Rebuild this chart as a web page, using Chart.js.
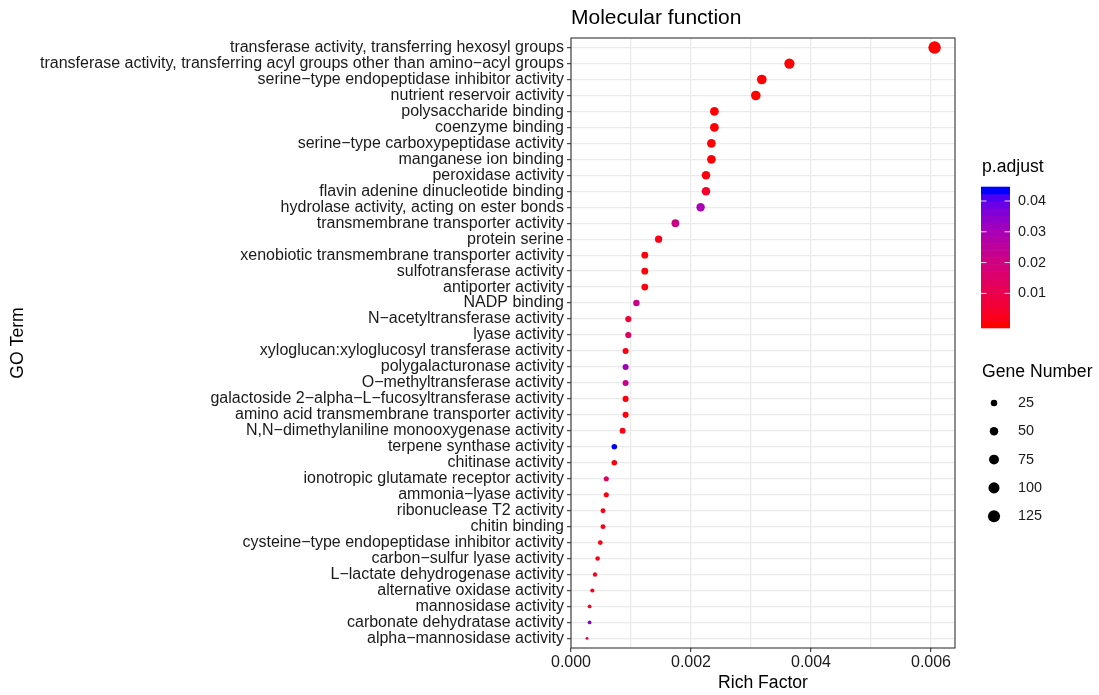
<!DOCTYPE html>
<html>
<head>
<meta charset="utf-8">
<script src="https://cdn.jsdelivr.net/npm/chart.js@4.4.0/dist/chart.umd.min.js"></script>
<style>
  html, body { margin: 0; padding: 0; background: #ffffff; }
  #wrap { width: 1099px; height: 695px; }
</style>
</head>
<body>
<div id="wrap"><canvas id="chart" width="1099" height="695"></canvas></div>
<script>
// GO molecular-function enrichment, top to bottom
const goTerms = [
  "transferase activity, transferring hexosyl groups",
  "transferase activity, transferring acyl groups other than amino\u2212acyl groups",
  "serine\u2212type endopeptidase inhibitor activity",
  "nutrient reservoir activity",
  "polysaccharide binding",
  "coenzyme binding",
  "serine\u2212type carboxypeptidase activity",
  "manganese ion binding",
  "peroxidase activity",
  "flavin adenine dinucleotide binding",
  "hydrolase activity, acting on ester bonds",
  "transmembrane transporter activity",
  "protein serine",
  "xenobiotic transmembrane transporter activity",
  "sulfotransferase activity",
  "antiporter activity",
  "NADP binding",
  "N\u2212acetyltransferase activity",
  "lyase activity",
  "xyloglucan:xyloglucosyl transferase activity",
  "polygalacturonase activity",
  "O\u2212methyltransferase activity",
  "galactoside 2\u2212alpha\u2212L\u2212fucosyltransferase activity",
  "amino acid transmembrane transporter activity",
  "N,N\u2212dimethylaniline monooxygenase activity",
  "terpene synthase activity",
  "chitinase activity",
  "ionotropic glutamate receptor activity",
  "ammonia\u2212lyase activity",
  "ribonuclease T2 activity",
  "chitin binding",
  "cysteine\u2212type endopeptidase inhibitor activity",
  "carbon\u2212sulfur lyase activity",
  "L\u2212lactate dehydrogenase activity",
  "alternative oxidase activity",
  "mannosidase activity",
  "carbonate dehydratase activity",
  "alpha\u2212mannosidase activity"
];

const richFactor = [
  0.00606, 0.00364, 0.00318, 0.00308, 0.00239, 0.00239, 0.00234, 0.00234,
  0.00225, 0.00225, 0.00216, 0.00174, 0.00146, 0.00123, 0.00123, 0.00123,
  0.00109, 0.000955, 0.000955, 0.00091, 0.00091, 0.00091, 0.00091, 0.00091,
  0.00086, 0.000722, 0.000722, 0.000588, 0.000588, 0.000533, 0.000533, 0.000488,
  0.000444, 0.0004, 0.000355, 0.00031, 0.00031, 0.000267
];

const geneNumber = [
  136, 82, 71, 69, 54, 54, 53, 53,
  51, 51, 49, 39, 33, 28, 28, 28,
  24, 21, 21, 20, 20, 20, 20, 20,
  19, 16, 16, 13, 13, 12, 12, 11,
  10, 9, 8, 7, 7, 6
];

const pAdjust = [
  3.2e-12, 1.5e-7, 4.1e-6, 2.3e-6, 8.0e-5, 1.1e-4, 2.6e-4, 3.0e-4,
  9.0e-4, 0.0042, 0.0295, 0.0215, 0.0018, 0.0004, 0.0005, 0.0006,
  0.0220, 0.0060, 0.0140, 0.0012, 0.0310, 0.0225, 0.0008, 0.0009,
  0.0015, 0.0435, 0.0007, 0.0130, 0.0010, 0.0011, 0.0012, 0.0014,
  0.0016, 0.0017, 0.0019, 0.0021, 0.0350, 0.0105
];

const xTickValues = [0, 0.002, 0.004, 0.006];
const xGridValues = [0, 0.001, 0.002, 0.003, 0.004, 0.005, 0.006];
const colorbarTicks = [0.01, 0.02, 0.03, 0.04];
const sizeBreaks = [25, 50, 75, 100, 125];

// ---- colour scale: red -> blue, interpolated in CIE Lab ----
function toLin(c) { c /= 255; return c <= 0.04045 ? c / 12.92 : Math.pow((c + 0.055) / 1.055, 2.4); }
function fromLin(c) {
  const v = c <= 0.0031308 ? 12.92 * c : 1.055 * Math.pow(c, 1 / 2.4) - 0.055;
  return Math.round(Math.min(1, Math.max(0, v)) * 255);
}
const WX = 0.95047, WY = 1.0, WZ = 1.08883;
function fLab(t) { return t > 0.008856 ? Math.cbrt(t) : 7.787 * t + 16 / 116; }
function fInv(t) { return t > 0.206893 ? t * t * t : (t - 16 / 116) / 7.787; }
function rgbToLab(rgb) {
  const R = toLin(rgb[0]), G = toLin(rgb[1]), B = toLin(rgb[2]);
  const X = 0.4124 * R + 0.3576 * G + 0.1805 * B;
  const Y = 0.2126 * R + 0.7152 * G + 0.0722 * B;
  const Z = 0.0193 * R + 0.1192 * G + 0.9505 * B;
  const fx = fLab(X / WX), fy = fLab(Y / WY), fz = fLab(Z / WZ);
  return [116 * fy - 16, 500 * (fx - fy), 200 * (fy - fz)];
}
function labToRgb(lab) {
  const fy = (lab[0] + 16) / 116, fx = fy + lab[1] / 500, fz = fy - lab[2] / 200;
  const X = WX * fInv(fx), Y = WY * fInv(fy), Z = WZ * fInv(fz);
  const R = 3.2406 * X - 1.5372 * Y - 0.4986 * Z;
  const G = -0.9689 * X + 1.8758 * Y + 0.0415 * Z;
  const B = 0.0557 * X - 0.2040 * Y + 1.0570 * Z;
  return [fromLin(R), fromLin(G), fromLin(B)];
}
const LAB_LOW = rgbToLab([255, 0, 0]);
const LAB_HIGH = rgbToLab([0, 0, 255]);
const pMin = Math.min(...pAdjust), pMax = Math.max(...pAdjust);
function colourFor(p) {
  const t = Math.min(1, Math.max(0, (p - pMin) / (pMax - pMin)));
  const lab = LAB_LOW.map((v, k) => v + (LAB_HIGH[k] - v) * t);
  const c = labToRgb(lab);
  return `rgb(${c[0]},${c[1]},${c[2]})`;
}

// ---- point size scale: area-proportional ----
const gMin = Math.min(...geneNumber), gMax = Math.max(...geneNumber);
function radiusFor(g) {
  const t = Math.sqrt(Math.max(0, (g - gMin) / (gMax - gMin)));
  return (2.9 + 9.6 * t) / 2;
}

const FONT = "'Liberation Sans', Arial, Helvetica, sans-serif";
const TEXT = "#1a1a1a";

// Panel border, title and the two legends (colour bar + size key)
const decorations = {
  id: 'decorations',
  afterDatasetsDraw(chart) {
    const ctx = chart.ctx;
    const a = chart.chartArea;
    ctx.save();
    ctx.strokeStyle = '#333333';
    ctx.lineWidth = 1.1;
    ctx.strokeRect(a.left, a.top, a.right - a.left, a.bottom - a.top);
    ctx.restore();
  },
  afterDraw(chart) {
    const ctx = chart.ctx;
    const a = chart.chartArea;
    ctx.save();
    ctx.fillStyle = '#000000';
    ctx.textBaseline = 'middle';
    ctx.textAlign = 'left';
    ctx.font = `21px ${FONT}`;
    ctx.fillText('Molecular function', a.left, 18);

    // colour bar
    ctx.font = `17.6px ${FONT}`;
    ctx.fillText('p.adjust', 982, 167);
    const barX = 981, barTop = 186.7, barW = 29, barH = 141, nbin = 20;
    const binH = barH / nbin;
    for (let i = 0; i < nbin; i++) {
      const v = pMin + (pMax - pMin) * i / (nbin - 1);
      ctx.fillStyle = colourFor(v);
      const yb = barTop + barH - (i + 1) * binH;
      ctx.fillRect(barX, yb, barW, binH + 0.6);
    }
    ctx.font = `14.4px ${FONT}`;
    ctx.fillStyle = TEXT;
    colorbarTicks.forEach(v => {
      const t = (v - pMin) / (pMax - pMin);
      const y = barTop + barH - (0.5 + (nbin - 1) * t) * binH;
      ctx.strokeStyle = 'rgba(255,255,255,0.85)';
      ctx.lineWidth = 1;
      ctx.beginPath();
      ctx.moveTo(barX, y); ctx.lineTo(barX + 5.5, y);
      ctx.moveTo(barX + barW - 5.5, y); ctx.lineTo(barX + barW, y);
      ctx.stroke();
      ctx.fillText(v.toFixed(2), 1018, y);
    });

    // size key
    ctx.fillStyle = '#000000';
    ctx.font = `17.6px ${FONT}`;
    ctx.fillText('Gene Number', 982, 372);
    ctx.font = `14.4px ${FONT}`;
    sizeBreaks.forEach((g, i) => {
      const y = 403 + i * 28.3;
      ctx.fillStyle = '#000000';
      ctx.beginPath();
      ctx.arc(994, y, radiusFor(g), 0, Math.PI * 2);
      ctx.fill();
      ctx.fillStyle = TEXT;
      ctx.fillText(String(g), 1018, y);
    });
    ctx.restore();
  }
};

const points = goTerms.map((t, i) => ({ x: richFactor[i], y: i }));

new Chart(document.getElementById('chart'), {
  type: 'scatter',
  data: {
    datasets: [{
      data: points,
      pointBackgroundColor: pAdjust.map(colourFor),
      pointBorderWidth: 0,
      pointBorderColor: 'rgba(0,0,0,0)',
      pointRadius: geneNumber.map(radiusFor),
      pointHoverRadius: geneNumber.map(radiusFor)
    }]
  },
  options: {
    responsive: false,
    devicePixelRatio: 1,
    animation: false,
    events: [],
    layout: { padding: { left: 0, right: 144, top: 38, bottom: 0 } },
    plugins: { legend: { display: false }, tooltip: { enabled: false }, title: { display: false } },
    scales: {
      x: {
        type: 'linear',
        position: 'bottom',
        min: 0,
        max: 0.0064,
        afterBuildTicks: s => { s.ticks = xGridValues.map(v => ({ value: v })); },
        afterFit: s => { s.height = 47; },
        ticks: {
          autoSkip: false,
          maxRotation: 0,
          padding: 1,
          color: TEXT,
          font: { family: FONT, size: 16 },
          callback: v => xTickValues.some(t => Math.abs(t - v) < 1e-9) ? v.toFixed(3) : ''
        },
        grid: {
          color: '#EBEBEB',
          lineWidth: 1.3,
          tickLength: 4,
          tickWidth: 1.1,
          tickColor: c => (c.tick && xTickValues.some(t => Math.abs(t - c.tick.value) < 1e-9)) ? '#333333' : 'rgba(0,0,0,0)'
        },
        border: { display: false },
        title: {
          display: true,
          text: 'Rich Factor',
          color: '#000000',
          font: { family: FONT, size: 17.6 },
          padding: { top: 0, bottom: 1.5 }
        }
      },
      y: {
        type: 'linear',
        reverse: true,
        min: -0.6,
        max: goTerms.length - 1 + 0.6,
        afterBuildTicks: s => { s.ticks = goTerms.map((_, i) => ({ value: i })); },
        afterFit: s => { s.width = 571; },
        ticks: {
          autoSkip: false,
          padding: 3,
          color: TEXT,
          font: { family: FONT, size: 16 },
          callback: v => goTerms[v]
        },
        grid: {
          color: '#EBEBEB',
          lineWidth: 1.3,
          tickLength: 4,
          tickWidth: 1.1,
          tickColor: '#333333'
        },
        border: { display: false },
        title: {
          display: true,
          text: 'GO Term',
          color: '#000000',
          font: { family: FONT, size: 17.6 },
          padding: { top: 7.5, bottom: 0 }
        }
      }
    }
  },
  plugins: [decorations]
});
</script>
</body>
</html>
